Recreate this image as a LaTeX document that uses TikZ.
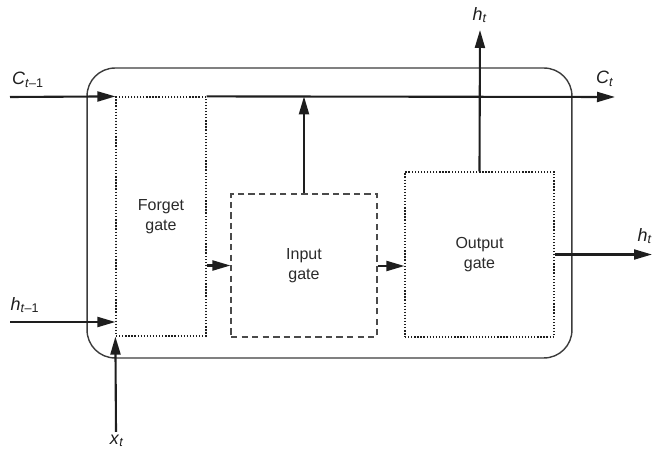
\documentclass[tikz,border=0pt]{standalone}
\usepackage{xcolor}
\usepackage{tikz}
\usepackage{fontspec}
\setmainfont{Liberation Sans}
\usetikzlibrary{arrows.meta, positioning, calc}
\definecolor{inkdark}{HTML}{1E1E1E}
\definecolor{cellgrey}{HTML}{3C3C3C}
\definecolor{gategrey}{HTML}{4A4A4A}
\definecolor{textgrey}{HTML}{2A2A2A}
\tikzset{
  arr/.style={-{Triangle[length=0.36cm, width=0.2cm]}, line width=1.2pt, inkdark},
  dotgate/.style={rectangle, draw=inkdark, line width=0.7pt, dash pattern=on 0.75pt off 1pt, align=center, text=textgrey, inner sep=0pt},
  dashgate/.style={rectangle, draw=gategrey, line width=0.6pt, dash pattern=on 3.6pt off 2.4pt, align=center, text=textgrey, inner sep=0pt},
  sig/.style={font=\fontsize{10.2}{12}\selectfont, text=inkdark, inner sep=0pt},
}

\begin{document}
\begin{tikzpicture}[x=0.02cm, y=-0.02cm, font=\fontsize{9.1}{11.4}\selectfont,
    cell/.style={rectangle, rounded corners=0.56cm, draw=cellgrey, line width=0.8pt, minimum width=9.7cm, minimum height=5.8cm}]
  \useasboundingbox (0,0) rectangle (654,452);

  \node[cell] (lstm) at (329.5,213) {};

  \node[dotgate, minimum width=1.8cm, minimum height=4.78cm] (forget) at (161,216.5) {Forget\\gate};
  \node[dashgate, minimum width=2.92cm, minimum height=2.86cm] (input) at (304,265.5) {Input\\gate};
  \node[dotgate, minimum width=2.98cm, minimum height=3.3cm] (output) at (479.5,254.5) {Output\\gate};

  % Free ends
  \coordinate (cin) at (10,97);
  \coordinate (cout) at (615,97);
  \coordinate (hin) at (10,322);
  \coordinate (xin) at (116,432);
  \coordinate (hup) at (480,30);
  \coordinate (hright) at (652,254.5);

  % Cell state
  \draw[arr] (cin) -- (forget.north west);
  \draw[arr] (forget.north east) -- (cout);
  \draw[arr] (input.north) -- (input.north |- forget.north);

  % Inputs
  \draw[arr] (hin) -- (hin -| forget.west);
  \draw[arr] (xin) -- (forget.south west);

  % Gate to gate
  \draw[arr] (forget.east |- input.west) -- (input.west);
  \draw[arr] (input.east |- 0,266) -- (output.west |- 0,266);

  % Outputs
  \draw[arr] (output.north) -- (hup);
  \draw[arr] (output.east) -- (hright);

  \node[sig] (lcin) at (28,80) {\textit{C}\textsubscript{\textit{t}–1}};
  \node[sig] (lcout) at (605,79) {\textit{C}\textsubscript{\textit{t}}};
  \node[sig] (lhin) at (25,305) {\textit{h}\textsubscript{\textit{t}–1}};
  \node[sig] (lxin) at (117,441) {\textit{x}\textsubscript{\textit{t}}};
  \node[sig] (lhup) at (480,15) {\textit{h}\textsubscript{\textit{t}}};
  \node[sig] (lhright) at (645,236) {\textit{h}\textsubscript{\textit{t}}};
\end{tikzpicture}
\end{document}
